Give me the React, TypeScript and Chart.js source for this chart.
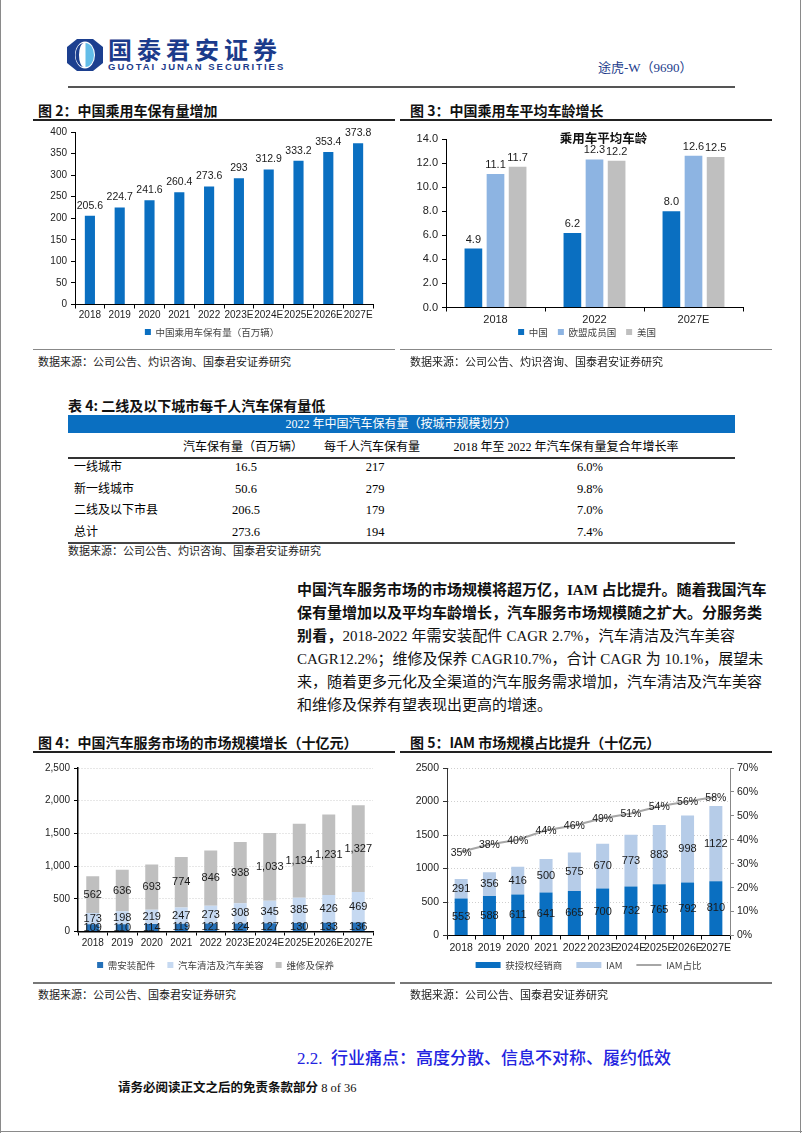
import React, { useEffect, useRef } from 'react';
import { Chart, registerables } from 'chart.js';
Chart.register(...registerables);

const SANS = '"Liberation Sans", Arial, sans-serif';
const CJK = '"Noto Sans CJK SC", sans-serif';
const SERIF = '"Liberation Serif", "Noto Sans CJK SC", serif';

// ---------- Figure 2 ----------
const years10 = ['2018', '2019', '2020', '2021', '2022', '2023E', '2024E', '2025E', '2026E', '2027E'];
const fleetLabel = '中国乘用车保有量（百万辆）';
const fleetValues = [205.6, 224.7, 241.6, 260.4, 273.6, 293, 312.9, 333.2, 353.4, 373.8];

// ---------- Figure 3 ----------
const fig3Title = '乘用车平均车龄';
const ageYears = ['2018', '2022', '2027E'];
const ageSeriesNames = ['中国', '欧盟成员国', '美国'];
const ageChina = [4.9, 6.2, 8.0];
const ageEU = [11.1, 12.3, 12.6];
const ageUS = [11.7, 12.2, 12.5];

// ---------- Figure 4 ----------
const serviceNames = ['需安装配件', '汽车清洁及汽车美容', '维修及保养'];
const partsValues = [109, 110, 114, 119, 121, 124, 127, 130, 133, 136];
const beautyValues = [173, 198, 219, 247, 273, 308, 345, 385, 426, 469];
const repairValues = [562, 636, 693, 774, 846, 938, 1033, 1134, 1231, 1327];

// ---------- Figure 5 ----------
const iamNames = ['获授权经销商', 'IAM', 'IAM占比'];
const dealerValues = [553, 588, 611, 641, 665, 700, 732, 765, 792, 810];
const iamValues = [291, 356, 416, 500, 575, 670, 773, 883, 998, 1122];
const iamShare = [35, 38, 40, 44, 46, 49, 51, 54, 56, 58];

// ---------- Table 4 ----------
const tableHeader = '2022 年中国汽车保有量（按城市规模划分）';
const tableCols = ['汽车保有量（百万辆）', '每千人汽车保有量', '2018 年至 2022 年汽车保有量复合年增长率'];
const tableRows = ['一线城市', '新一线城市', '二线及以下市县', '总计'];
const tableFleet = ['16.5', '50.6', '206.5', '273.6'];
const tablePer1000 = ['217', '279', '179', '194'];
const tableCagr = ['6.0%', '9.8%', '7.0%', '7.4%'];

const valueLabelPlugin = {
  id: 'valueLabels',
  afterDatasetsDraw(chart: any) {
    const ctx = chart.ctx;
    chart.data.datasets.forEach((ds: any, i: number) => {
      if (!ds.labelPos) return;
      const meta = chart.getDatasetMeta(i);
      ctx.save();
      ctx.font = `${ds.labelSize || 10.5}px ${SANS}`;
      ctx.fillStyle = ds.labelColor || '#1a1a1a';
      ctx.textAlign = 'center';
      ctx.textBaseline = 'middle';
      meta.data.forEach((el: any, j: number) => {
        const v = ds.data[j];
        let text = String(v);
        if (ds.labelFormat === 'comma') text = Number(v).toLocaleString('en-US');
        else if (ds.labelFormat === 'fixed1') text = Number(v).toFixed(1);
        else if (ds.labelFormat === 'pct') text = v + '%';
        let y = el.y;
        if (ds.labelPos === 'top') y = el.y - (ds.labelOffset ?? 9);
        else if (ds.labelPos === 'center') y = (el.y + el.base) / 2;
        else y = el.y + (ds.labelOffset ?? 0);
        ctx.fillText(text, el.x + (ds.labelDx ?? 0), y);
      });
      ctx.restore();
    });
  },
};

const innerTitlePlugin = {
  id: 'innerTitle',
  afterDraw(chart: any) {
    const ctx = chart.ctx;
    const a = chart.chartArea;
    ctx.save();
    ctx.font = `bold 12.5px ${CJK}`;
    ctx.fillStyle = '#111';
    ctx.textAlign = 'center';
    ctx.textBaseline = 'middle';
    ctx.fillText(fig3Title, a.left + a.width * 0.53, a.top - 1);
    ctx.restore();
  },
};

// places the legend box: horizontal centre relative to plot centre, text centre at a canvas y
const placeLegend = (dx: number, textY: number, fontSize: number, padding: number) => ({
  id: 'placeLegend',
  afterLayout(chart: any) {
    const lg = chart.legend;
    if (!lg) return;
    const a = chart.chartArea;
    const target = (a.left + a.right) / 2 + dx;
    const cur = (lg.left + lg.right) / 2;
    const d = target - cur;
    lg.left += d;
    lg.right += d;
    const h = lg.bottom - lg.top;
    lg.top = textY - padding - fontSize / 2;
    lg.bottom = lg.top + h;
  },
});

const xAxis = (size: number, height: number, padding: number, extra: any = {}) => ({
  grid: { display: true, drawOnChartArea: false, drawTicks: true, tickLength: 4, color: '#000', offset: true },
  border: { display: true, color: '#000', width: extra.borderWidth || 1 },
  ticks: { font: { family: SANS, size }, color: '#222', padding, maxRotation: 0, minRotation: 0, autoSkip: false },
  afterFit: (s: any) => { s.height = height; },
  stacked: !!extra.stacked,
});

const yAxis = (o: any) => ({
  position: o.position || 'left',
  min: 0,
  max: o.max,
  stacked: !!o.stacked,
  grid: {
    display: true,
    drawOnChartArea: !!o.gridOn,
    drawTicks: true,
    tickLength: 4,
    color: o.gridOn ? '#cfcfcf' : (o.axisColor || '#000'),
    tickColor: o.axisColor || '#000',
  },
  border: { display: true, color: o.axisColor || '#000', width: o.borderWidth || 1, dash: o.gridOn ? [1, 2] : undefined },
  ticks: {
    stepSize: o.step,
    font: { family: SANS, size: o.size },
    color: '#222',
    padding: o.padding ?? 4,
    callback: o.cb || ((v: any) => String(v)),
  },
  afterFit: (s: any) => { s.width = o.width; },
});

const legendOpts = (size: number, padding: number, extra: any = {}) => ({
  position: 'bottom',
  labels: {
    boxWidth: 6,
    boxHeight: 6,
    padding,
    font: { family: CJK, size },
    color: '#444',
    ...extra,
  },
});

const base = (padding: any) => ({
  responsive: false,
  animation: false,
  devicePixelRatio: 1,
  layout: { padding },
  events: [],
});

const fig2Config = () => ({
  type: 'bar',
  data: {
    labels: years10,
    datasets: [
      { label: fleetLabel, data: fleetValues, backgroundColor: '#0a6fc1', categoryPercentage: 1, barPercentage: 0.34, labelPos: 'top', labelOffset: 10, labelSize: 10.5 },
    ],
  },
  options: {
    ...base({ left: 0, right: 22, top: 10, bottom: 0 }),
    plugins: { legend: legendOpts(9.5, 6), tooltip: { enabled: false } },
    scales: {
      x: xAxis(10, 18, 1),
      y: yAxis({ max: 400, step: 50, size: 10, width: 40 }),
    },
  },
  plugins: [valueLabelPlugin, placeLegend(-12, 210, 9.5, 6)],
});

const fig3Config = () => ({
  type: 'bar',
  data: {
    labels: ageYears,
    datasets: [
      { label: ageSeriesNames[0], data: ageChina, backgroundColor: '#0a6fc1' },
      { label: ageSeriesNames[1], data: ageEU, backgroundColor: '#8db4e2' },
      { label: ageSeriesNames[2], data: ageUS, backgroundColor: '#bfbfbf' },
    ].map((d) => ({ ...d, categoryPercentage: 0.67, barPercentage: 0.8, labelPos: 'top', labelOffset: 9, labelFormat: 'fixed1', labelSize: 11 })),
  },
  options: {
    ...base({ left: 0, right: 55, top: 17, bottom: 0 }),
    plugins: { legend: legendOpts(9.5, 10), tooltip: { enabled: false } },
    scales: {
      x: xAxis(11, 18, 1.5),
      y: yAxis({ max: 14, step: 2, size: 11, width: 46, cb: (v: any) => Number(v).toFixed(1) }),
    },
  },
  plugins: [valueLabelPlugin, innerTitlePlugin, placeLegend(-7.5, 210, 9.5, 10)],
});

const fig4Config = () => ({
  type: 'bar',
  data: {
    labels: years10,
    datasets: [
      { label: serviceNames[0], data: partsValues, backgroundColor: '#2470b8' },
      { label: serviceNames[1], data: beautyValues, backgroundColor: '#c6d9f1' },
      { label: serviceNames[2], data: repairValues, backgroundColor: '#bfbfbf' },
    ].map((d) => ({ ...d, categoryPercentage: 1, barPercentage: 0.44, labelPos: 'center', labelFormat: 'comma', labelSize: 11 })),
  },
  options: {
    ...base({ left: 0, right: 22, top: 11, bottom: 0 }),
    plugins: { legend: legendOpts(9.5, 12), tooltip: { enabled: false } },
    scales: {
      x: xAxis(10, 18, 2, { stacked: true, borderWidth: 1.5 }),
      y: yAxis({ max: 2500, step: 500, size: 10, width: 43, gridOn: true, stacked: true, borderWidth: 1.5, cb: (v: any) => Number(v).toLocaleString('en-US') }),
    },
  },
  plugins: [valueLabelPlugin, placeLegend(-10, 208, 9.5, 12)],
});

const fig5Config = () => {
  const lg = legendOpts(9.5, 14, { usePointStyle: true, pointStyleWidth: 25 });
  return {
    data: {
      labels: years10,
      datasets: [
        { type: 'line', label: iamNames[2], data: iamShare, yAxisID: 'y2', borderColor: '#a6a6a6', backgroundColor: '#a6a6a6', borderWidth: 2, pointRadius: 0, pointStyle: 'line', tension: 0, order: 0, labelPos: 'point', labelOffset: 1, labelFormat: 'pct', labelSize: 10.5 },
        { type: 'bar', label: iamNames[0], data: dealerValues, yAxisID: 'y', backgroundColor: '#0a6fc1', pointStyle: 'rect', order: 1, stack: 's', categoryPercentage: 1, barPercentage: 0.46, labelPos: 'center', labelSize: 11 },
        { type: 'bar', label: iamNames[1], data: iamValues, yAxisID: 'y', backgroundColor: '#b6cce8', pointStyle: 'rect', order: 1, stack: 's', categoryPercentage: 1, barPercentage: 0.46, labelPos: 'center', labelSize: 11 },
      ],
    },
    options: {
      ...base({ left: 0, right: 38, top: 11, bottom: 0 }),
      plugins: {
        legend: {
          ...lg,
          labels: {
            ...lg.labels,
            sort: (a: any, b: any) => {
              const order = [1, 2, 0];
              return order.indexOf(a.datasetIndex) - order.indexOf(b.datasetIndex);
            },
          },
        },
        tooltip: { enabled: false },
      },
      scales: {
        x: xAxis(10.5, 18, 2, { stacked: true }),
        y: yAxis({ max: 2500, step: 500, size: 10.5, width: 47, gridOn: true, stacked: true, axisColor: '#333' }),
        y2: yAxis({ position: 'right', max: 70, step: 10, size: 10.5, width: 30, padding: 3, axisColor: '#888', cb: (v: any) => v + '%' }),
      },
    },
    plugins: [valueLabelPlugin, placeLegend(0, 208, 9.5, 14)],
  };
};

function ChartCanvas({ left, top, width, height, make }: any) {
  const ref = useRef<HTMLCanvasElement>(null);
  useEffect(() => {
    const chart = new Chart(ref.current as HTMLCanvasElement, make() as any);
    return () => chart.destroy();
  }, []);
  return (
    <canvas
      ref={ref}
      width={width}
      height={height}
      style={{ position: 'absolute', left, top, width, height }}
    />
  );
}

function T({ x, y, size = 12, children, style = {} }: any) {
  return (
    <div
      style={{
        position: 'absolute',
        left: x,
        top: y - size / 2 - 1,
        fontSize: size,
        lineHeight: `${size + 2}px`,
        whiteSpace: 'nowrap',
        ...style,
      }}
    >
      {children}
    </div>
  );
}

function C({ cx, y, size = 12, w = 300, children, style = {} }: any) {
  return (
    <T x={cx - w / 2} y={y} size={size} style={{ width: w, textAlign: 'center', ...style }}>
      {children}
    </T>
  );
}

const Line = ({ x, y, w, h = 1, color = '#000' }: any) => (
  <div style={{ position: 'absolute', left: x, top: y, width: w, height: h, background: color }} />
);

const paraLines: [string, string][] = [
  ['中国汽车服务市场的市场规模将超万亿，IAM 占比提升。随着我国汽车', ''],
  ['保有量增加以及平均车龄增长，汽车服务市场规模随之扩大。分服务类', ''],
  ['别看，', '2018-2022 年需安装配件 CAGR 2.7%，汽车清洁及汽车美容'],
  ['', 'CAGR12.2%；维修及保养 CAGR10.7%，合计 CAGR 为 10.1%，展望未'],
  ['', '来，随着更多元化及全渠道的汽车服务需求增加，汽车清洁及汽车美容'],
  ['', '和维修及保养有望表现出更高的增速。'],
];

export default function App() {
  const titleStyle = { fontFamily: CJK, fontWeight: 700, color: '#111' };
  const srcStyle = { fontFamily: SERIF, color: '#222' };
  const tableRowY = [467, 489, 510, 532];
  return (
    <div
      style={{
        position: 'absolute',
        left: 0,
        top: 0,
        width: 802,
        height: 1133,
        background: '#fff',
        overflow: 'hidden',
        fontFamily: SERIF,
        color: '#000',
      }}
    >
      {/* page border */}
      <Line x={0} y={0} w={1} h={1133} color="#8a8a8a" />
      <Line x={800} y={0} w={1} h={1133} color="#8a8a8a" />
      <Line x={0} y={1131} w={802} h={1} color="#8a8a8a" />

      {/* header */}
      <svg style={{ position: 'absolute', left: 67, top: 39 }} width="36" height="32" viewBox="0 0 36 32">
        <polygon points="10,0 26,0 36,8 36,24 26,32 10,32 0,24 0,8" fill="#1c3f8f" />
        <ellipse cx="18" cy="16" rx="10" ry="13.5" fill="#fff" />
        <path d="M18.5,4 A8.5,12 0 0,1 18.5,28 Z" fill="#63bde8" />
        <path d="M17,4 A8.5,12 0 0,0 17,28 A5,12 0 0,1 17,4 Z" fill="#1c3f8f" />
      </svg>
      <T x={108} y={49} size={24} style={{ fontFamily: CJK, fontWeight: 700, color: '#1b3b8b', letterSpacing: 5 }}>
        国泰君安证券
      </T>
      <T x={108} y={67} size={9.5} style={{ fontFamily: SANS, fontWeight: 700, color: '#1b3b8b', letterSpacing: 2 }}>
        GUOTAI JUNAN SECURITIES
      </T>
      <T x={598} y={67} size={13} style={{ fontFamily: SERIF, color: '#1b3b8b' }}>
        途虎-W（9690）
      </T>
      <Line x={68} y={86} w={667} h={2} color="#555" />

      {/* figure 2 & 3 titles */}
      <T x={38} y={110} size={14} style={titleStyle}>图 2：中国乘用车保有量增加</T>
      <Line x={33} y={119} w={362} h={1.5} color="#222" />
      <T x={410} y={110} size={14} style={titleStyle}>图 3：中国乘用车平均车龄增长</T>
      <Line x={400} y={119} w={372} h={1.5} color="#222" />

      <ChartCanvas left={35} top={122} width={360} height={226} make={fig2Config} />
      <ChartCanvas left={400} top={122} width={398} height={233} make={fig3Config} />

      <Line x={33} y={349} w={362} h={1} color="#888" />
      <Line x={400} y={349} w={372} h={1} color="#888" />
      <T x={38} y={362} size={11} style={srcStyle}>数据来源：公司公告、灼识咨询、国泰君安证券研究</T>
      <T x={410} y={362} size={11} style={srcStyle}>数据来源：公司公告、灼识咨询、国泰君安证券研究</T>

      {/* table 4 */}
      <T x={68} y={405} size={14} style={titleStyle}>表 4: 二线及以下城市每千人汽车保有量低</T>
      <div style={{ position: 'absolute', left: 68, top: 415, width: 667, height: 18, background: '#0a6fc1' }} />
      <C cx={401} y={424} size={12} w={500} style={{ color: '#fff' }}>{tableHeader}</C>
      <C cx={243} y={447} size={12}>{tableCols[0]}</C>
      <C cx={372} y={447} size={12}>{tableCols[1]}</C>
      <C cx={566} y={447} size={12}>{tableCols[2]}</C>
      <Line x={68} y={457} w={667} h={1.5} color="#333" />
      {tableRows.map((r, i) => (
        <React.Fragment key={r}>
          <T x={74} y={tableRowY[i]} size={12}>{r}</T>
          <C cx={246} y={tableRowY[i]} size={12.5}>{tableFleet[i]}</C>
          <C cx={375} y={tableRowY[i]} size={12.5}>{tablePer1000[i]}</C>
          <C cx={590} y={tableRowY[i]} size={12.5}>{tableCagr[i]}</C>
        </React.Fragment>
      ))}
      <Line x={68} y={542} w={667} h={2} color="#444" />
      <T x={68} y={551} size={11} style={srcStyle}>数据来源：公司公告、灼识咨询、国泰君安证券研究</T>

      {/* paragraph */}
      {paraLines.map(([b, n], i) => (
        <div
          key={i}
          style={{
            position: 'absolute',
            left: 297,
            top: 579 + i * 23,
            width: 438,
            fontSize: 15,
            lineHeight: '23px',
            whiteSpace: 'nowrap',
            textAlign: 'justify',
            textAlignLast: i === paraLines.length - 1 ? 'left' : 'justify',
            fontFamily: SERIF,
            color: '#111',
          } as any}
        >
          {b && <span style={{ fontWeight: 700 }}>{b}</span>}
          {n && <span>{n}</span>}
        </div>
      ))}

      {/* figure 4 & 5 titles */}
      <T x={38} y={742} size={14} style={titleStyle}>图 4：中国汽车服务市场的市场规模增长（十亿元）</T>
      <Line x={33} y={751} w={362} h={1.5} color="#222" />
      <T x={410} y={742} size={14} style={titleStyle}>图 5：IAM 市场规模占比提升（十亿元）</T>
      <Line x={400} y={751} w={372} h={1.5} color="#222" />

      <ChartCanvas left={35} top={757} width={360} height={224} make={fig4Config} />
      <ChartCanvas left={400} top={757} width={398} height={230} make={fig5Config} />

      <Line x={33} y={982} w={362} h={1.5} color="#777" />
      <Line x={400} y={982} w={372} h={1.5} color="#777" />
      <T x={38} y={995} size={11} style={srcStyle}>数据来源：公司公告、国泰君安证券研究</T>
      <T x={410} y={995} size={11} style={srcStyle}>数据来源：公司公告、国泰君安证券研究</T>

      {/* section heading */}
      <T x={297} y={1058} size={17} style={{ fontFamily: SERIF, color: '#2323e0', fontWeight: 500 }}>
        2.2.&nbsp;&nbsp;行业痛点：高度分散、信息不对称、履约低效
      </T>

      {/* footer */}
      <T x={118} y={1088} size={12.5} style={{ fontFamily: SERIF, color: '#111' }}>
        <span style={{ fontWeight: 700 }}>请务必阅读正文之后的免责条款部分</span> 8 of 36
      </T>
    </div>
  );
}
